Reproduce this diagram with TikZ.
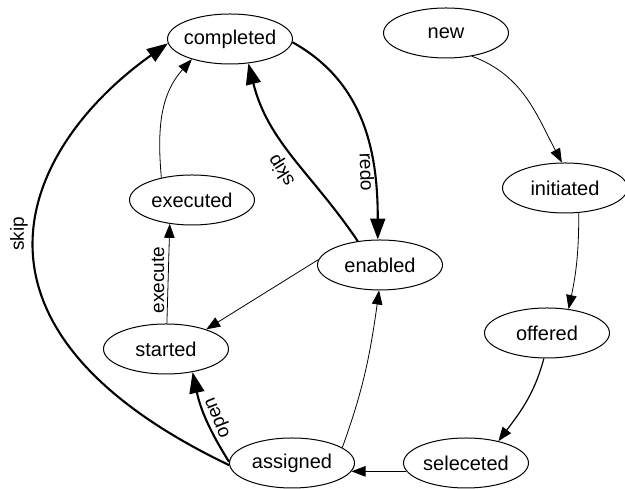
\documentclass[tikz,border=0pt]{standalone}
\usepackage{fontspec}
\setmainfont{Liberation Sans}
\usetikzlibrary{arrows.meta,shapes.geometric}
% keep state names from widening their ellipses
\newcommand\centred[1]{\makebox[0pt]{#1}}

\begin{document}
\begin{tikzpicture}[x=1pt,y=1pt,
  state/.style={ellipse, draw, line width=1pt, inner sep=0pt,
    minimum width=125pt, minimum height=50pt,
    font=\fontsize{20}{24}\selectfont},
  flow/.style={line width=0.8pt, -{Triangle[length=14pt,width=10.5pt]}},
  strong/.style={line width=2.1pt, -{Triangle[length=21pt,width=15pt]}},
  lbl/.style={inner sep=0pt, font=\fontsize{19}{22}\selectfont}]

\useasboundingbox (0,0) rectangle (625,489);

% states
\node[state] (completed) at (230,450) {\centred{completed}};
\node[state] (new)       at (446,456) {\centred{new}};
\node[state] (initiated) at (565,301) {\centred{initiated}};
\node[state] (offered)   at (547,156) {\centred{offered}};
\node[state] (seleceted) at (466,26)  {\centred{seleceted}};
\node[state] (enabled)   at (380,224) {\centred{enabled}};
\node[state] (executed)  at (192,289) {\centred{executed}};
\node[state] (started)   at (166,140) {\centred{started}};
\node[state] (assigned)  at (292,26)  {\centred{assigned}};

% ordinary transitions
\draw[flow] (new.-42) to[out=-20, in=118] (initiated.97);
\draw[flow] (initiated.-61) to[out=-90, in=78] (offered.48);
\draw[flow, line width=1.2pt] (offered.-97) to[out=-105, in=53] (seleceted.34);
\draw[flow] (seleceted.188) -- (assigned.-8);
\draw[flow] (assigned.17) to[out=70, in=-98] (enabled.-92);
\draw[flow] (enabled.175) -- (started.26.5);
\draw[flow] (started.88) -- (executed.-133);
\draw[flow] (executed.144) to[out=95, in=228] (completed.208.6);

% emphasised transitions
\draw[strong] (completed.-3) to[out=-29, in=90] (enabled.95);
\draw[strong] (enabled.133) to[out=124, in=-76] (completed.-53);
\draw[strong] (assigned.179) to[out=122, in=-78] (started.-41);
\draw[strong] (assigned.182) .. controls (-66,165) and (26,345) .. (completed.184);

% transition labels
\node[lbl, rotate=90]  (lskipleft) at (19,255)  {skip};
\node[lbl, rotate=90]  (lexecute)  at (158,209) {execute};
\node[lbl, rotate=122] (lskipmid)  at (282,319) {skip};
\node[lbl, rotate=-88] (lredo)     at (367,317) {redo};
\node[lbl, rotate=112] (lopen)     at (219,72)  {open};
\end{tikzpicture}
\end{document}
